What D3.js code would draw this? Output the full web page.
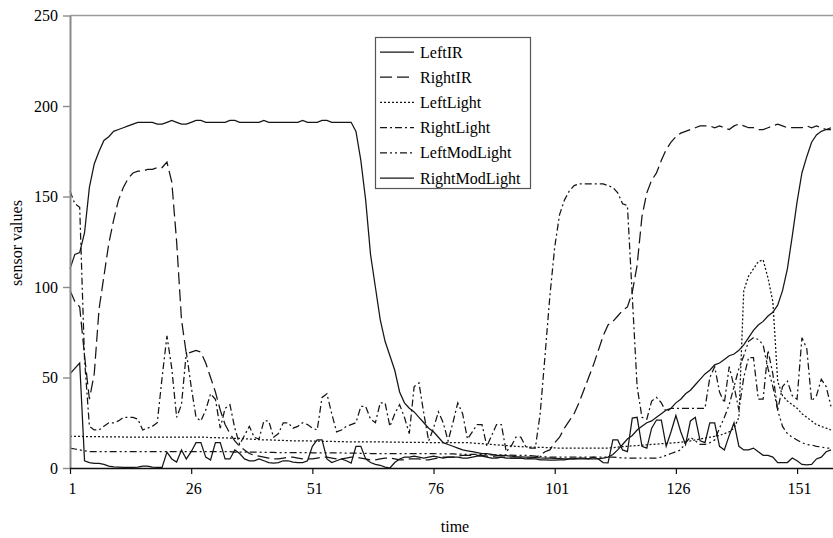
<!DOCTYPE html>
<html>
<head>
<meta charset="utf-8">
<script src="https://cdn.jsdelivr.net/npm/d3@7"></script>
<style>
  html, body { margin: 0; padding: 0; background: #fff; }
  svg { display: block; }
  text { font-family: "Liberation Serif", "DejaVu Serif", serif; fill: #000; }
</style>
</head>
<body>
<svg id="chart" width="833" height="538"></svg>
<script>
// ---- Data (time = 1..158) ----
const seriesNames = ["LeftIR", "RightIR", "LeftLight", "RightLight", "LeftModLight", "RightModLight"];
const xTicks = [1, 26, 51, 76, 101, 126, 151];
const yTicks = [0, 50, 100, 150, 200, 250];

const leftIR = [
  110,118,119,130,155,168,175,181,183,186,
  187,188,189,190,191,191,191,191,190,190,
  191,192,191,190,190,191,192,192,191,191,
  191,191,191,192,192,191,191,191,191,191,
  192,191,191,191,191,191,191,191,192,191,
  191,191,192,192,191,191,191,191,191,186,
  170,148,118,100,82,70,62,54,42,36,
  33,31,28,25,22,20,17,14,13,12,
  11,10,9.5,9,8.5,8,8,7.5,7,7,
  6.8,6.5,6.3,6.2,6,6,5.8,5.6,5.5,5.4,
  5.3,5.2,5.1,5,5,5,5,5,5,5,
  5.5,6,7.5,10,13,16,18,21,23,25,
  26,28,30,32,33,36,38,41,43,46,
  49,52,54,57,58,60,62,63,65,68,
  72,76,79,81,84,86,90,98,110,128,
  147,163,172,180,184,186,187,188
];
const rightIR = [
  98,92,89,62,38,52,88,106,124,137,
  148,155,160,163,164,164,165,165,166,166,
  169,158,125,82,63,64,65,64,58,50,
  42,32,24,19,15,12,10,8,7,6.5,
  6,5.5,5,5,5.5,6,6,5.5,5,5,
  5,5.5,6,6,5.5,5,5,5.5,6,6,
  5.5,5,4.5,4.5,5,5.5,5.5,5,4.5,4.5,
  5,5,5,4.5,4.5,5,5.5,6,6,6,
  6.5,7,7,7,7,7,6.5,6.5,6,6,
  6,5.5,5.5,5.5,5.5,5.5,6,7,9,10,
  14,17,22,26,30,36,43,50,57,65,
  73,79,81,84,87,89,97,112,139,152,
  159,163,170,176,180,183,185,186,187,188,
  189,189,189,188,189,188,187,189,190,189,
  188,188,187,187,188,189,190,189,188,188,
  188,188,189,188,189,188,187,187
];
const leftLight = [
  17.5,17.5,17.5,17.3,17.3,17.3,17.3,17.2,17.2,17.2,
  17.2,17.1,17.1,17,17,17,17,17,17,17,
  17,17,17,17,17,17,17,17,17,16.8,
  16.8,16.7,16.6,16.5,16.4,16.3,16.2,16,15.8,15.7,
  15.5,15.5,15.4,15.3,15.2,15.1,15,15,15,15,
  14.9,14.8,14.8,14.7,14.7,14.6,14.6,14.5,14.5,14.5,
  14.5,14.5,14.5,14.4,14.4,14.4,14.3,14.3,14.3,14.2,
  14.2,14.2,14.1,14.1,14,14,14,14,14,14,
  14,14,14,13.8,13.6,13.4,13.2,13,12.8,12.6,
  12.4,12.2,12,11.8,11.7,11.6,11.5,11.4,11.3,11.2,
  11.1,11,11,11,11,11,11,11,11,11,
  11,11,11.2,11.5,11.8,12,12.2,12.4,12.6,12.8,
  13,13.2,13.4,13.6,13.8,14,14.2,14.6,15,15.5,
  16,16.5,17,17.5,18,19,20,22,28,98,
  106,110,114,115,105,92,48,40,37,35,
  33,30,28,26,24,23,22,21
];
const rightLight = [
  153,146,144,60,23,21,21,23,25,25,
  26,28,28,28,27,21,22,23,25,50,
  73,55,28,35,64,45,28,26,32,41,
  38,22,33,35,22,13,18,23,17,16,
  26,26,17,19,25,25,22,23,25,24,
  22,21,39,41,30,20,21,23,24,25,
  34,34,27,25,36,36,23,30,35,28,
  19,45,47,30,15,22,31,25,15,25,
  36,30,16,20,24,24,12,18,24,24,
  9,12,17,17,12,11,11,30,62,95,
  122,140,148,153,156,157,157,157,157,157,
  157,156,155,152,146,145,95,45,28,27,
  37,39,36,31,33,33,33,33,33,33,
  33,33,50,56,42,36,56,45,32,50,
  61,61,38,38,65,52,32,45,48,40,
  38,72,66,37,40,49,45,34
];
const leftModLight = [
  11,10.5,10,9.5,9,9,9,9,9,9,
  9,9,9,9,9,9,9,9,9,9,
  9,9,9,9,9,9,9,9,9,9,
  9,9,9,9,8.8,8.8,8.8,8.8,8.8,8.8,
  8.6,8.6,8.6,8.5,8.5,8.5,8.5,8.5,8.5,8.5,
  8.4,8.4,8.4,8.4,8.3,8.3,8.3,8.2,8.2,8.2,
  8.1,8.1,8,8,8,8,8,8,8,8,
  8,8,8,8,8,8,7.8,7.8,7.8,7.8,
  7.6,7.6,7.5,7.5,7.5,7.4,7.4,7.3,7.3,7.2,
  7.2,7.1,7,7,7,6.8,6.6,6.4,6.2,6,
  6,6,6,6,6,6,6,6,6,6,
  6,6,6,5.8,5.6,5.5,5.5,5.5,5.5,5.5,
  5.5,5.5,6,7,8,9,10,14,17,15,
  13,13,14,15.5,22,28,35,45,55,62,
  70,72,71,68,55,45,32,23,19,17,
  15.5,14,13,12.7,12,11.6,11,11
];
const rightModLight = [
  52,55,58,4,3,2.5,2.5,2,1,0.6,
  0.5,0.3,0.3,0.3,0.5,1,1,0.5,0.3,0.3,
  8.8,5,3.3,10,5,9,14,14,6,4.4,
  14,14,5,5,10,8,5,4,4,5,
  4,3,2.7,3,4,4,3.3,3,3,4,
  12,15.5,15.5,5,3,4,5,4,2.7,12,
  12,5,3,2,1.5,0.5,0,3,5,6,
  6,6.5,6,5.5,6,6.5,6,5.5,6,6,
  6,5.5,5.5,6,6.5,6.5,6,5.5,5.5,6,
  5.5,5.5,5.5,5.5,5,5,5,4.5,4.5,4.4,
  4.4,4.5,4.5,5,5,5.5,5.5,5,6,5,
  3,2.8,15.5,15.5,10,9,27.6,28,12,11,
  22,26.5,26.5,12,20,29,20,13,26,28,
  15,14,25,25,12,10,18,25,12,10,
  10,11,9,7,7,6,3,3,3,5.5,
  4,2,1.7,2,5,6,9,10
];

(function () {
  // ---- Styles ----
  const dashes = [null, "12,5", "2,2", "7,3,2,3", "7,3,2,3,2,3", null];
  const allSeries = [leftIR, rightIR, leftLight, rightLight, leftModLight, rightModLight];

  const svg = d3.select("#chart");
  const mLeft = 70, mRight = 831, mTop = 15.5, mBottom = 468;

  const x = d3.scaleLinear().domain([1, 158]).range([mLeft, mRight]);
  const y = d3.scaleLinear().domain([0, 250]).range([mBottom, mTop]);

  // top border
  svg.append("line").attr("x1", mLeft).attr("x2", 833).attr("y1", y(250)).attr("y2", y(250))
    .attr("stroke", "#9a9a9a").attr("stroke-width", 1.6);

  // series
  const line = d3.line().x((d, i) => x(i + 1)).y(d => y(d));
  allSeries.forEach((s, k) => {
    svg.append("path").datum(s)
      .attr("d", line)
      .attr("fill", "none")
      .attr("stroke", "#151515")
      .attr("stroke-width", 1.25)
      .attr("stroke-dasharray", dashes[k]);
  });

  // y axis
  const yAxis = svg.append("g").attr("transform", `translate(${mLeft},0)`)
    .call(d3.axisLeft(y).tickValues(yTicks).tickSize(7).tickPadding(5).tickSizeOuter(0));
  yAxis.select(".domain").attr("stroke", "#8a8a8a").attr("stroke-width", 2);
  yAxis.selectAll(".tick line").attr("stroke", "#8a8a8a").attr("stroke-width", 1.4);
  yAxis.selectAll(".tick text").style("font-size", "16px").style("font-family", "Liberation Serif").attr("fill", "#000");

  // x axis
  const xAxis = svg.append("g").attr("transform", `translate(0,${mBottom})`)
    .call(d3.axisBottom(x).tickValues(xTicks).tickSize(6).tickPadding(9).tickSizeOuter(0));
  xAxis.select(".domain").attr("stroke", "#111").attr("stroke-width", 1.3).attr("d", `M${mLeft},0.5H833`);
  xAxis.selectAll(".tick line").attr("stroke", "#111").attr("stroke-width", 1.2);
  xAxis.selectAll(".tick text").style("font-size", "16px").style("font-family", "Liberation Serif").attr("fill", "#000")
    .attr("dx", 2);

  // axis titles
  svg.append("text").attr("x", 455).attr("y", 532).attr("text-anchor", "middle")
    .style("font-size", "16px").text("time");
  svg.append("text").attr("transform", "translate(22,243) rotate(-90)").attr("text-anchor", "middle")
    .style("font-size", "16px").text("sensor values");

  // legend
  const lg = svg.append("g");
  lg.append("rect").attr("x", 375.5).attr("y", 37.5).attr("width", 155).attr("height", 151)
    .attr("fill", "#fff").attr("stroke", "#555").attr("stroke-width", 1.2);
  seriesNames.forEach((name, k) => {
    const cy = 52 + k * 25.2;
    lg.append("line").attr("x1", 380).attr("x2", 414).attr("y1", cy).attr("y2", cy)
      .attr("stroke", "#151515").attr("stroke-width", 1.25).attr("stroke-dasharray", dashes[k]);
    lg.append("text").attr("x", 420).attr("y", cy + 5.5).style("font-size", "16px").text(name);
  });
})();
</script>
</body>
</html>
